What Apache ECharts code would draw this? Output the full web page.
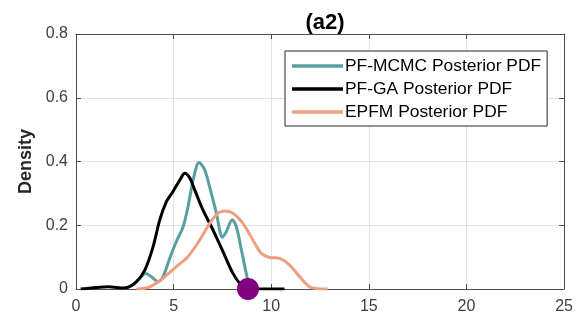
<!DOCTYPE html>
<html><head><meta charset="utf-8">
<script src="https://cdn.jsdelivr.net/npm/echarts@6/dist/echarts.min.js"></script>
<style>html,body{margin:0;padding:0;background:#fff}#c{width:576px;height:325px}</style>
</head><body><div id="c"></div>
<script>
const titleText = "(a2)";
const yName = "Density";
const seriesNames = ["PF-MCMC Posterior PDF", "PF-GA Posterior PDF", "EPFM Posterior PDF"];
const xTicks = [0, 5, 10, 15, 20, 25];
const yTicks = [0, 0.2, 0.4, 0.6, 0.8];

const mcmcX = [2.33,2.93,3.58,3.95,4.2,4.46,4.8,5.14,5.49,5.74,6.0,6.3,6.59,6.93,7.19,7.5,7.7,8.0,8.21,8.47,8.72,8.89,9.0];
const mcmcY = [0,0.013,0.049,0.034,0.023,0.039,0.096,0.149,0.196,0.259,0.342,0.397,0.374,0.3,0.238,0.162,0.18,0.217,0.196,0.123,0.049,0.007,0];

const gaX = [0.24,0.8,1.65,2.5,3.1,3.53,3.95,4.29,4.63,4.97,5.32,5.57,5.83,6.08,6.5,7.02,7.53,8.04,8.47,9.06,9.74,10.68];
const gaY = [0,0.003,0.007,0.003,0.023,0.06,0.133,0.217,0.274,0.306,0.342,0.363,0.348,0.311,0.248,0.185,0.117,0.049,0.013,0.002,0,0];

const epfmX = [3.1,3.78,4.46,5.14,5.74,6.34,6.85,7.27,7.61,8.04,8.55,9.06,9.49,9.91,10.43,10.94,11.45,11.96,12.4,12.88];
const epfmY = [0,0.007,0.034,0.07,0.102,0.154,0.206,0.238,0.245,0.238,0.206,0.154,0.112,0.099,0.096,0.075,0.039,0.007,0.001,0];

const markerX = [8.81];
const markerY = [0];

const zip = (xs, ys) => xs.map((x, i) => [x, ys[i]]);
const FONT = "Liberation Sans, Arial, sans-serif";
const AX = '#4d4d4d';

const chart = echarts.init(document.getElementById('c'), null, {renderer: 'canvas'});
const baseX = {
  type: 'value', min: xTicks[0], max: xTicks[xTicks.length - 1], interval: 5,
  axisLine: {show: true, onZero: false, lineStyle: {color: AX, width: 1}},
  axisTick: {show: true, inside: true, length: 5, lineStyle: {color: AX}},
};
const baseY = {
  type: 'value', min: yTicks[0], max: yTicks[yTicks.length - 1], interval: 0.2,
  axisLine: {show: true, onZero: false, lineStyle: {color: AX, width: 1}},
  axisTick: {show: true, inside: true, length: 5, lineStyle: {color: AX}},
};
chart.setOption({
  animation: false,
  title: {text: titleText, left: 320, textAlign: 'center', top: 5,
    textStyle: {fontFamily: FONT, fontSize: 22, fontWeight: 'bold', color: '#000', lineHeight: 26}},
  grid: {left: 76, right: 11, top: 34, bottom: 36, containLabel: false},
  legend: {
    data: seriesNames, orient: 'vertical', left: 285, top: 51,
    backgroundColor: '#fff', borderColor: '#262626', borderWidth: 1,
    padding: [5, 6, 4, 7], itemGap: 3, itemWidth: 51, itemHeight: 3.5, icon: 'rect',
    textStyle: {fontFamily: FONT, fontSize: 17.4, color: '#000', lineHeight: 20, padding: [0, 0, 0, -3]}
  },
  xAxis: [
    Object.assign({}, baseX, {position: 'bottom',
      axisLabel: {color: '#404040', fontFamily: FONT, fontSize: 16, margin: 10},
      splitLine: {show: true, lineStyle: {color: '#e3e3e3', width: 1}}}),
    Object.assign({}, baseX, {position: 'top', axisLabel: {show: false}, splitLine: {show: false}})
  ],
  yAxis: [
    Object.assign({}, baseY, {position: 'left', name: yName, nameLocation: 'middle', nameGap: 37,
      nameTextStyle: {fontFamily: FONT, fontSize: 18, fontWeight: 'bold', color: '#262626'},
      axisLabel: {color: '#404040', fontFamily: FONT, fontSize: 16, margin: 8},
      splitLine: {show: true, lineStyle: {color: '#e3e3e3', width: 1}}}),
    Object.assign({}, baseY, {position: 'right', axisLabel: {show: false}, splitLine: {show: false}})
  ],
  series: [
    {name: seriesNames[0], type: 'line', data: zip(mcmcX, mcmcY), smooth: 0.3, showSymbol: false,
      lineStyle: {color: '#5A9FA0', width: 3}, itemStyle: {color: '#5A9FA0'}},
    {name: seriesNames[1], type: 'line', data: zip(gaX, gaY), smooth: 0.3, showSymbol: false,
      lineStyle: {color: '#000000', width: 3}, itemStyle: {color: '#000000'}},
    {name: seriesNames[2], type: 'line', data: zip(epfmX, epfmY), smooth: 0.3, showSymbol: false,
      lineStyle: {color: '#EF9F80', width: 3}, itemStyle: {color: '#EF9F80'}},
    {name: 'marker', type: 'scatter', data: zip(markerX, markerY), symbolSize: 22, clip: false,
      itemStyle: {color: '#800080', opacity: 1}, z: 5}
  ]
});
</script></body></html>
